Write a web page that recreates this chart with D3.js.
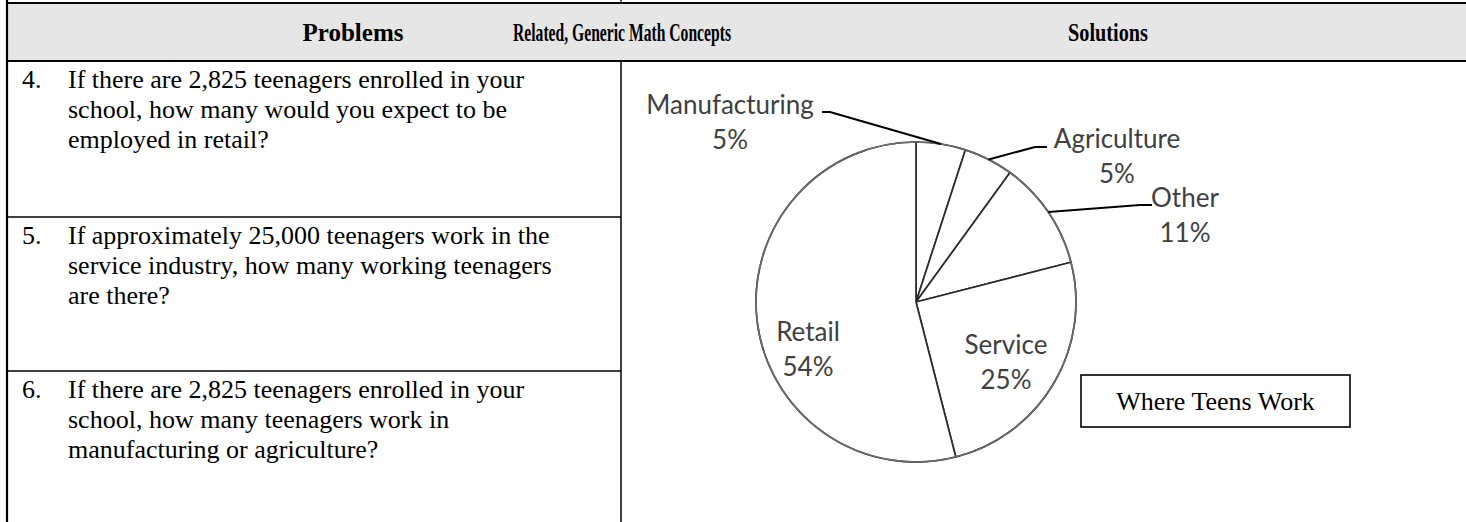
<!DOCTYPE html>
<html>
<head>
<meta charset="utf-8">
<script src="https://cdn.jsdelivr.net/npm/d3@7"></script>
<style>
  body { margin: 0; background: #fff; }
  svg { display: block; }
</style>
</head>
<body>
<div id="chart"></div>
<script>
// chart data
var categories = ["Manufacturing", "Agriculture", "Other", "Service", "Retail"];
var shares = [5, 5, 11, 25, 54];
var chartTitle = "Where Teens Work";

// table text
var headers = ["Problems", "Related, Generic Math Concepts", "Solutions"];
var problemNumbers = ["4.", "5.", "6."];
var problemLines = [
  ["If there are 2,825 teenagers enrolled in your", "school, how many would you expect to be", "employed in retail?"],
  ["If approximately 25,000 teenagers work in the", "service industry, how many working teenagers", "are there?"],
  ["If there are 2,825 teenagers enrolled in your", "school, how many teenagers work in", "manufacturing or agriculture?"]
];

(function() {
  var width = 1466, height = 522;
  var svg = d3.select("#chart").append("svg")
    .attr("width", width)
    .attr("height", height);

  var serif = "'Liberation Serif', 'Times New Roman', serif";
  var leftX = 7, divX = 621, topY = 3, headBottom = 61;
  var rowTops = [headBottom, 217, 371, 522];

  // header band
  svg.append("rect")
    .attr("x", leftX).attr("y", topY)
    .attr("width", width - leftX).attr("height", headBottom - topY)
    .attr("fill", "#e6e6e6");

  // header cells: centre and squeezed width (null = natural)
  var headerX = [353, 622, 1108];
  var headerLen = [null, 218, 80];
  svg.selectAll(".head")
    .data(headers)
    .enter().append("text")
    .attr("class", "head")
    .attr("x", function(d, i) { return headerX[i]; })
    .attr("y", 41)
    .attr("text-anchor", "middle")
    .attr("textLength", function(d, i) { return headerLen[i]; })
    .attr("lengthAdjust", "spacingAndGlyphs")
    .style("font-family", serif)
    .style("font-weight", "bold")
    .style("font-size", "25px")
    .text(function(d) { return d; });

  // table lines
  var lines = svg.append("g").attr("stroke", "#000");
  lines.append("line").attr("x1", leftX).attr("x2", width).attr("y1", topY).attr("y2", topY).attr("stroke-width", 2.2);
  lines.append("line").attr("x1", leftX).attr("x2", width).attr("y1", headBottom).attr("y2", headBottom).attr("stroke-width", 2.2);
  lines.append("line").attr("x1", leftX).attr("x2", leftX).attr("y1", 0).attr("y2", height).attr("stroke-width", 2.2);
  lines.append("line").attr("x1", divX).attr("x2", divX).attr("y1", 0).attr("y2", topY).attr("stroke-width", 1.3);
  lines.append("line").attr("x1", divX).attr("x2", divX).attr("y1", headBottom).attr("y2", height).attr("stroke-width", 1.5);
  [rowTops[1], rowTops[2]].forEach(function(y) {
    lines.append("line").attr("x1", leftX).attr("x2", divX).attr("y1", y).attr("y2", y).attr("stroke-width", 1.6);
  });

  // problems
  var rows = svg.selectAll(".problem")
    .data(problemLines)
    .enter().append("g")
    .attr("class", "problem")
    .attr("transform", function(d, i) { return "translate(0," + rowTops[i] + ")"; })
    .style("font-family", serif)
    .style("font-size", "26px");

  rows.append("text")
    .attr("x", 22).attr("y", 27)
    .text(function(d, i) { return problemNumbers[i]; });

  rows.selectAll(".ln")
    .data(function(d) { return d; })
    .enter().append("text")
    .attr("class", "ln")
    .attr("x", 68)
    .attr("y", function(d, j) { return 27 + j * 30; })
    .text(function(d) { return d; });

  // pie
  var cx = 916, cy = 302, radius = 160;
  var pie = d3.pie().sort(null).value(function(d) { return d; });
  var arcs = pie(shares);
  var arc = d3.arc().innerRadius(0).outerRadius(radius);
  var rim = d3.arc().innerRadius(radius).outerRadius(radius);

  var g = svg.append("g").attr("transform", "translate(" + cx + "," + cy + ")");

  g.selectAll(".slice")
    .data(arcs)
    .enter().append("path")
    .attr("class", "slice")
    .attr("d", arc)
    .attr("fill", "#fff")
    .attr("stroke", "#2b2b2b")
    .attr("stroke-width", 1.7)
    .attr("stroke-linejoin", "round");

  g.append("circle")
    .attr("r", radius)
    .attr("fill", "none")
    .attr("stroke", "#6a6a6a")
    .attr("stroke-width", 1.6);

  // label layout, relative to pie centre
  var labelPos = {
    "Manufacturing": { x: -186, y: -188, elbow: [-86, -190], end: [-94, -190] },
    "Agriculture":   { x: 201,  y: -154, elbow: [119, -155], end: [131, -155] },
    "Other":         { x: 269,  y: -95,  elbow: [224, -97],  end: [236, -97] },
    "Service":       { x: 90,   y: 52 },
    "Retail":        { x: -108, y: 39 }
  };

  arcs.forEach(function(a, i) {
    var p = labelPos[categories[i]];
    if (p.elbow) {
      var c = rim.centroid(a);
      g.append("path")
        .attr("d", d3.line()([c, p.elbow, p.end]))
        .attr("fill", "none")
        .attr("stroke", "#000")
        .attr("stroke-width", 2);
    }
    var t = g.append("text")
      .attr("text-anchor", "middle")
      .style("font-family", "Lato, 'Open Sans', sans-serif")
      .style("font-size", "26px")
      .attr("fill", "#404040");
    t.append("tspan").attr("x", p.x).attr("y", p.y).text(categories[i]);
    t.append("tspan").attr("x", p.x).attr("y", p.y + 35).text(shares[i] + "%");
  });

  // title box
  var box = svg.append("g").attr("transform", "translate(1081,375)");
  box.append("rect")
    .attr("width", 269).attr("height", 52)
    .attr("fill", "#fff")
    .attr("stroke", "#000")
    .attr("stroke-width", 1.6);
  box.append("text")
    .attr("x", 134.5).attr("y", 35)
    .attr("text-anchor", "middle")
    .style("font-family", serif)
    .style("font-size", "26px")
    .text(chartTitle);
})();
</script>
</body>
</html>
